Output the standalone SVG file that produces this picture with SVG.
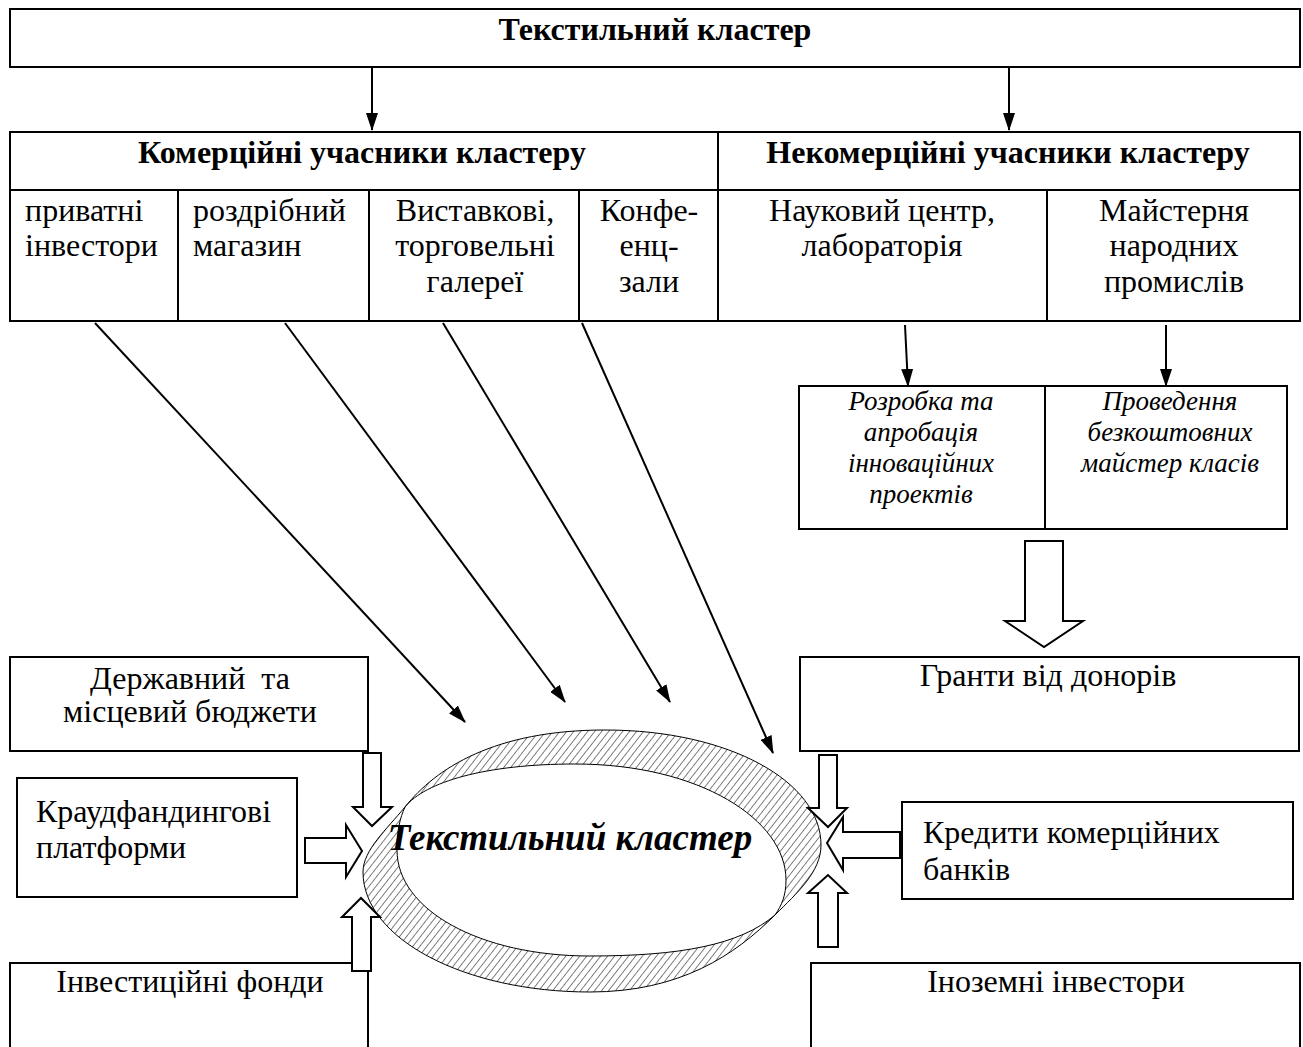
<svg xmlns="http://www.w3.org/2000/svg" width="1303" height="1047" viewBox="0 0 1303 1047">
<style>
.box{fill:#fff;stroke:#000;stroke-width:2}
.ln{stroke:#000;stroke-width:2;fill:none}
.t{font-family:"Liberation Serif","Times New Roman",serif;font-size:32px;fill:#000}
.b{font-weight:bold}
.c{text-anchor:middle}
.it{font-style:italic;font-size:27px}
.arr{stroke:#000;stroke-width:2;fill:none;marker-end:url(#ah)}
.hol{fill:#fff;stroke:#000;stroke-width:2;stroke-linejoin:miter}
</style>
<defs>
<marker id="ah" viewBox="0 0 18 12" markerWidth="18" markerHeight="12" refX="17" refY="6" orient="auto" markerUnits="userSpaceOnUse">
<path d="M0,0 L18,6 L0,12 z" fill="#000"/>
</marker>
<pattern id="hatch" patternUnits="userSpaceOnUse" width="5.5" height="10" patternTransform="rotate(38)">
<line x1="0" y1="0" x2="0" y2="10" stroke="#000" stroke-width="1"/>
</pattern>
</defs>
<rect width="1303" height="1047" fill="#fff"/>

<g id="top">
<rect class="box" x="10" y="9" width="1290" height="58"/>
<text class="t b c" x="655" y="40">Текстильний кластер</text>
</g>

<g id="participants">
<rect class="box" x="10" y="132" width="1290" height="189"/>
<line class="ln" x1="10" y1="190" x2="1300" y2="190"/>
<line class="ln" x1="718" y1="132" x2="718" y2="321"/>
<line class="ln" x1="178" y1="190" x2="178" y2="321"/>
<line class="ln" x1="369" y1="190" x2="369" y2="321"/>
<line class="ln" x1="579" y1="190" x2="579" y2="321"/>
<line class="ln" x1="1047" y1="190" x2="1047" y2="321"/>
<text class="t b c" x="362" y="163">Комерційні учасники кластеру</text>
<text class="t b c" x="1008" y="163">Некомерційні учасники кластеру</text>
<text class="t" x="25" y="221">приватні</text>
<text class="t" x="25" y="256">інвестори</text>
<text class="t" x="193" y="221">роздрібний</text>
<text class="t" x="193" y="256">магазин</text>
<text class="t c" x="475" y="221">Виставкові,</text>
<text class="t c" x="475" y="256">торговельні</text>
<text class="t c" x="475" y="292">галереї</text>
<text class="t c" x="649" y="221">Конфе-</text>
<text class="t c" x="649" y="256">енц-</text>
<text class="t c" x="649" y="292">зали</text>
<text class="t c" x="882" y="221">Науковий центр,</text>
<text class="t c" x="882" y="256">лабораторія</text>
<text class="t c" x="1174" y="221">Майстерня</text>
<text class="t c" x="1174" y="256">народних</text>
<text class="t c" x="1174" y="292">промислів</text>
</g>

<g id="activities">
<rect class="box" x="799" y="386" width="488" height="143"/>
<line class="ln" x1="1045" y1="386" x2="1045" y2="529"/>
<text class="t it c" x="921" y="410">Розробка та</text>
<text class="t it c" x="921" y="441">апробація</text>
<text class="t it c" x="921" y="472">інноваційних</text>
<text class="t it c" x="921" y="503">проектів</text>
<text class="t it c" x="1170" y="410">Проведення</text>
<text class="t it c" x="1170" y="441">безкоштовних</text>
<text class="t it c" x="1170" y="472">майстер класів</text>
</g>

<g id="grants">
<rect class="box" x="800" y="657" width="499" height="94"/>
<text class="t c" x="1048" y="686">Гранти від донорів</text>
</g>
<g id="budget">
<rect class="box" x="10" y="657" width="358" height="94"/>
<text class="t c" x="190" y="689" xml:space="preserve">Державний  та</text>
<text class="t c" x="190" y="722">місцевий бюджети</text>
</g>
<g id="crowdfunding">
<rect class="box" x="17" y="778" width="280" height="119"/>
<text class="t" x="36" y="822">Краудфандингові</text>
<text class="t" x="36" y="858">платформи</text>
</g>
<g id="credits">
<rect class="box" x="902" y="802" width="391" height="97"/>
<text class="t" x="923" y="843">Кредити комерційних</text>
<text class="t" x="923" y="880">банків</text>
</g>
<g id="funds">
<rect class="box" x="10" y="963" width="358" height="100"/>
<text class="t c" x="190" y="992">Інвестиційні фонди</text>
</g>
<g id="foreign">
<rect class="box" x="811" y="963" width="489" height="100"/>
<text class="t c" x="1056" y="992">Іноземні інвестори</text>
</g>

<g id="cluster">
<path fill="url(#hatch)" fill-rule="evenodd" stroke="#000" stroke-width="1" d="M405,807 C436,768 495,730 605,730 C730,730 821,782 821,845 C821,872 797,893 775,915 C735,955 680,992 590,992 C465,992 363,939 363,872 C363,850 387,829 405,807 Z M405,807 C425,782 485,764 575,764 C700,764 786,820 786,880 C786,895 782,905 775,915 C740,945 680,956 590,956 C480,956 397,910 397,850 C397,830 400,818 405,807 Z"/>
<text class="t b" x="570" y="850" style="font-style:italic;font-size:37px" text-anchor="middle">Текстильний кластер</text>
</g>

<g id="connectors">
<line class="arr" x1="372" y1="67" x2="372" y2="130"/>
<line class="arr" x1="1009" y1="67" x2="1009" y2="130"/>
<line class="arr" x1="905" y1="325" x2="908" y2="386"/>
<line class="arr" x1="1166" y1="325" x2="1166" y2="386"/>
<line class="arr" x1="95" y1="323" x2="465" y2="722"/>
<line class="arr" x1="285" y1="323" x2="565" y2="702"/>
<line class="arr" x1="443" y1="323" x2="670" y2="702"/>
<line class="arr" x1="582" y1="323" x2="773" y2="753"/>
<polygon class="hol" points="1025,541 1063,541 1063,621 1083,621 1044,647 1005,621 1025,621"/>
<polygon class="hol" points="363,753 381,753 381,807 392,807 372,826 353,807 363,807"/>
<polygon class="hol" points="305,838 346,838 346,825 362,851 346,877 346,863 305,863"/>
<polygon class="hol" points="352,971 352,917 342,917 361,898 380,917 371,917 371,971"/>
<polygon class="hol" points="819,755 837,755 837,808 847,808 828,827 808,808 819,808"/>
<polygon class="hol" points="900,832 843,832 843,817 827,843 843,870 843,858 900,858"/>
<polygon class="hol" points="818,947 818,893 808,893 828,875 847,893 838,893 838,947"/>
</g>
</svg>
